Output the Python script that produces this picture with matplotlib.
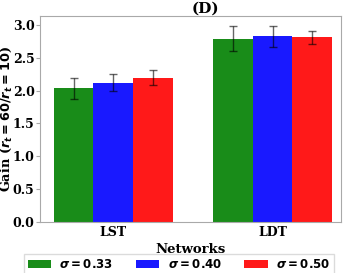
import numpy as np
import matplotlib
matplotlib.use('Agg')
import matplotlib.pyplot as plt

networks = ['LST', 'LDT']
sigmas = ['0.33', '0.40', '0.50']
gain_033 = [2.04, 2.79]
gain_040 = [2.12, 2.83]
gain_050 = [2.20, 2.81]
err_033 = [0.16, 0.19]
err_040 = [0.13, 0.16]
err_050 = [0.12, 0.10]

colors = ['green', 'blue', 'red']

plt.rcParams['font.family'] = 'DejaVu Serif'
plt.rcParams['font.weight'] = 'bold'
plt.rcParams['mathtext.fontset'] = 'dejavusans'

fig = plt.figure(figsize=(3.49, 2.73), dpi=100)
ax = fig.add_axes([0.115, 0.187, 0.862, 0.755])

x = np.arange(len(networks))
width = 0.25
means = [gain_033, gain_040, gain_050]
errs = [err_033, err_040, err_050]
for i in range(3):
    ax.bar(x + (i - 1) * width, means[i], width, yerr=errs[i], color=colors[i],
           alpha=0.9, capsize=3, error_kw=dict(ecolor='black', elinewidth=1, alpha=0.6),
           label=r'$\boldsymbol{\sigma = ' + sigmas[i] + '}$')

ax.set_xticks(x)
ax.set_xticklabels(networks, fontsize=9, fontweight='bold')
ax.set_xlim(-0.46, 1.43)
ax.set_yticks([0.0, 0.5, 1.0, 1.5, 2.0, 2.5, 3.0])
ax.tick_params(axis='y', labelsize=9, color='darkgray', length=3, pad=1)
ax.tick_params(axis='x', length=0, pad=3)
for s in ax.spines.values():
    s.set_color('darkgray')
for lab in ax.get_yticklabels():
    lab.set_fontweight('bold')

ax.set_ylabel(r'Gain ($\boldsymbol{r_t = 60/r_t = 10}$)', fontsize=9.3, fontweight='bold')
ax.yaxis.set_label_coords(-0.087, 0.5)
ax.set_xlabel('Networks', fontsize=9.5, fontweight='bold', labelpad=3)
ax.set_title('(D)', fontsize=11, fontweight='bold', x=0.55, pad=2)

fig.legend(loc='upper center', bbox_to_anchor=(0.513, 0.068), ncol=3, fontsize=8.5,
           frameon=True, fancybox=False, edgecolor='lightgray', handlelength=2.0,
           handletextpad=0.7, columnspacing=1.9, borderaxespad=0, borderpad=0.3)

fig.savefig('out.png', dpi=100)
